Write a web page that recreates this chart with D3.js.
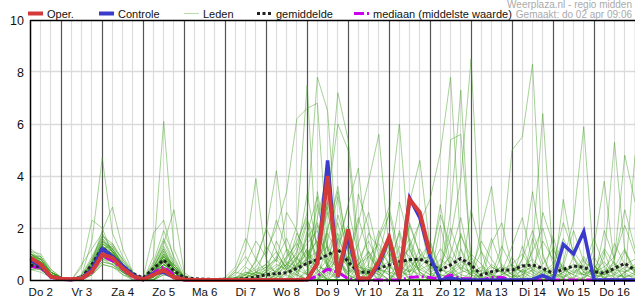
<!DOCTYPE html>
<html lang="nl">
<head>
<meta charset="utf-8" />
<style>
  body { margin: 0; background: #fff; }
  svg { display: block; font-family: "Liberation Sans", Arial, sans-serif; }
</style>
</head>
<body>
<div id="chart"></div>
<script src="https://cdnjs.cloudflare.com/ajax/libs/d3/7.8.5/d3.min.js"></script>
<script>
const width = 635, height = 300;

// hours after do 2 apr 00:00, one value every 6 hours (06:00 do 2 .. 00:00 vr 17)
const hours = d3.range(6, 361, 6);
const dayLabels = ["Do 2", "Vr 3", "Za 4", "Zo 5", "Ma 6", "Di 7", "Wo 8", "Do 9",
  "Vr 10", "Za 11", "Zo 12", "Ma 13", "Di 14", "Wo 15", "Do 16"];
const yTicks = [0, 2, 4, 6, 8, 10];

// operational run (stops after 10 days)
const oper = [0.85, 0.6, 0.13, 0.05, 0.03, 0.06, 0.33, 0.98, 0.85, 0.45, 0.15, 0.02, 0.2, 0.38, 0.1, 0.02, 0, 0, 0,
  0, 0, 0, 0, 0, 0, 0, 0, 0.02, 0.64, 4.0, 0.13, 1.95, 0.08, 0.05, 0.7, 1.64, 0.05, 3.1, 2.6, 1.0];

const controle = [0.75, 0.55, 0.12, 0.05, 0.02, 0.08, 0.4, 1.2, 0.9, 0.55, 0.2, 0.02, 0.25, 0.3, 0.1, 0.02, 0, 0, 0,
  0, 0, 0, 0, 0, 0, 0, 0, 0.02, 0.64, 4.6, 0.1, 1.7, 0.05, 0.02, 0.6, 1.6, 0.02, 3.15, 2.4, 0.9,
  0, 0.08, 0, 0, 0, 0, 0, 0, 0, 0.02, 0.18, 0, 1.37, 1.0, 1.86, 0, 0, 0, 0, 0];

const gemiddelde = [0.58, 0.5, 0.15, 0.05, 0.03, 0.1, 0.6, 1.24, 0.92, 0.55, 0.25, 0.08, 0.45, 0.77, 0.35, 0.1, 0.05, 0.03, 0.02,
  0.03, 0.03, 0.05, 0.12, 0.2, 0.25, 0.28, 0.45, 0.64, 0.78, 0.96, 1.18, 0.7, 0.3, 0.3, 0.45, 0.58, 0.7, 0.78, 0.8,
  0.64, 0.38, 0.58, 0.83, 0.58, 0.19, 0.32, 0.38, 0.38, 0.54, 0.58, 0.45, 0.26, 0.41, 0.54, 0.49, 0.32, 0.26, 0.45, 0.64, 0.38];

const mediaan = [0.52, 0.48, 0.1, 0.02, 0, 0.05, 0.3, 0.92, 0.75, 0.42, 0.1, 0, 0.28, 0.5, 0.2, 0, 0, 0, 0,
  0, 0, 0, 0, 0, 0, 0, 0, 0, 0.15, 0.42, 0.3, 0.05, 0, 0, 0, 0, 0, 0.1, 0.13,
  0.1, 0.02, 0.19, 0.05, 0.05, 0, 0.1, 0.1, 0, 0, 0, 0, 0, 0, 0, 0, 0, 0, 0, 0, 0];

// ensemble members
const leden = [
  [1.2,0.9,0.3,0.1,0,0.1,0.5,1.4,1.1,0.6,0.2,0,0.3,0.9,0.5,0.1,0,0,0, 0,0,0,0.2, 0.5,0.3,0.8,1.5, 2.4,0.6,0.3,0, 0,0.2,0.5,0.3, 0,0.8,1.2,0.3, 0,0,0.3,0, 0,0,0,0, 0,0,0.4,0.1, 0,0,0,0, 0,0,0.5,1.2, 0.3],
  [0.9,0.7,0.2,0,0,0.2,1.5,4.7,1.8,0.9,0.3,0,0,0.4,0.2,0,0,0,0, 0,0,0,0, 0,0.1,0.3,0.9, 0.2,0,1.5,3.2, 0.4,0,0,0, 0.6,0,0,0, 0,2.1,0.4,0, 0,0,0,0.6, 0.2,0,0,0, 0,0,0,0.8, 0,0,0,0, 0],
  [0.6,0.5,0.1,0,0,0,0.7,1.9,2.8,1.2,0.3,0,0.2,0.5,0.2,0,0,0,0, 0,0,0.1,0.3, 0.6,1.1,0.4,0, 0,3.4,1.2,0.5, 0,0,0,0, 0,0,2.2,1.0, 0.3,0,0,0, 0,0,0,0, 0,0,0,0, 0.2,0.6,0,0, 0,0,0,0, 0],
  [0.5,0.6,0.2,0.1,0,0.5,2.3,2.0,1.0,0.4,0.1,0,0,0.3,0.1,0,0,0,0, 0,0,0,0, 0,0,0,0.2, 0.8,2.1,0.6,0, 0,0.3,0.4,0, 1.8,0.5,0,0, 0,0,0,0, 0,0.4,0.2,0, 0,0,1.6,0.4, 0,0,0,0, 0,0.3,0.7,0, 0],
  [0.8,0.6,0.2,0,0,0.1,0.4,0.9,0.7,0.3,0.1,0,0.9,6.1,1.2,0.2,0,0,0, 0,0,0,0, 0,0,0,0, 0.3,0.9,2.8,0.4, 0,0,0,0, 0,0,0,0, 0,0,0,1.2, 0.4,0,0,0, 0,0,0,0, 0,0,0,0, 0,1.1,0,0, 0],
  [0.7,0.8,0.3,0.1,0,0,0.3,1.0,0.9,0.5,0.2,0,0.5,1.4,2.7,0.3,0,0,0, 0,0,0,0, 0,0.2,0.6,0.4, 1.1,0.3,0,0, 0,0,0,0.9, 2.6,0.7,0,0, 0,0,0,0, 0,0,0,0, 0,0,0,0, 0,0,0,0, 0,0,0,0, 0],
  [1.0,0.7,0.2,0,0,0.1,0.6,1.2,1.3,0.8,0.2,0.1,1.8,2.3,0.8,0.1,0,0,0, 0,0,0,0, 0,0,0,0, 0,0,0.4,0.8, 0.2,0,0,0, 0,0,0,0, 0,0,0,0, 0,0,0,0, 0,0,0,0, 0,0,0,0, 0,0,0,0, 0],
  [0.4,0.4,0.1,0,0,0.1,0.5,1.1,0.8,0.4,0.1,0,0.2,0.6,0.3,0,0,0,0, 0,0.3,1.2,3.9, 0.8,0.2,0,0, 0,0,0,0, 0,0,0,0, 0,0.5,1.4,0.2, 0,0,0,0, 0,0,0,0, 0.9,0.2,0,0, 0,0,0,0, 0,0,0,0, 0],
  [0.9,0.6,0.2,0,0,0,0.4,1.3,1.0,0.5,0.1,0,0.1,0.8,0.4,0.1,0,0,0, 0,0,0,0.8, 1.9,4.2,1.1,0.3, 0,0,0.6,0, 0,0,0,0, 0,0,0,0, 0,0,0,0, 0,0,0,0, 0,0,0,0, 0,0,0,0, 0,0,0,0, 0],
  [0.6,0.5,0.2,0,0,0.2,0.8,1.6,1.1,0.5,0.2,0,0.3,1.1,0.5,0,0,0,0, 0,0,0.2,0.5, 1.1,2.0,3.4,6.2, 6.6,6.8,1.2,0.3, 0,0,0,0, 0,0.5,0,0, 0,0,0,0, 0,0,0,0, 0,0,0,0, 0,0,0,0, 0,0,0,0, 0],
  [1.1,0.8,0.2,0.1,0,0,0.3,0.8,0.6,0.3,0,0,0,0.2,0.1,0,0,0,0, 0,0,0,0.1, 0.3,0.2,0.9,2.1, 7.5,0.4,0,0.3, 0.9,0,0,0, 0,0,0,0, 0,0,0,1.8, 0.5,0,0,0, 0,0,0,0, 0,0,0,0, 0,0,0,0, 0],
  [0.7,0.7,0.3,0.1,0,0.1,0.5,1.2,1.0,0.7,0.3,0,0.4,0.9,0.6,0.1,0,0,0, 0,0,0,0, 0,0.4,0.6,1.3, 2.6,7.8,6.5,1.0, 0,0,0.4,0.2, 0,0,0,0, 0,0,0,0, 0,0,0,0, 0,1.3,0.3,0, 0,0,0,0, 0,0,0,0, 0],
  [0.5,0.4,0.1,0,0,0,0.2,0.6,0.5,0.2,0.1,0,0.2,0.4,0.2,0,0,0,0, 0,0,0,0, 0,0,0.3,0.5, 0.8,1.6,2.9,7.2, 5.4,1.3,0,0, 0,0,0,0, 0,0,0,0, 0,0,0,0, 0,0,0,0, 0,0,0,0, 0.6,0,0,0, 0],
  [0.9,0.8,0.3,0.1,0,0.1,0.6,1.5,1.2,0.6,0.2,0,0.6,1.6,0.7,0.1,0,0,0, 0,0,0,0, 0,0,0,0.4, 0.2,0.9,3.1,6.0, 5.0,0.7,0,0, 0,0,0.6,0, 0,0,0,0, 0,0,0,0, 0,0,0,0, 0,0,0,0, 0,0,0,0, 0],
  [0.6,0.5,0.2,0,0,0,0.4,1.0,0.8,0.4,0.1,0,0,0.5,0.3,0,0,0,0, 0,0,0,0, 0,0,0.2,0, 0,0.3,0.8,1.4, 0.6,2.2,3.8,5.6, 1.1,0,0,0, 0,0,0,0, 0,0,0,0, 0,0,0,0, 0.4,0,0,0, 0,0,0,0, 0],
  [1.0,0.9,0.4,0.1,0,0.1,0.4,1.1,1.0,0.5,0.2,0,0.3,0.7,0.3,0,0,0,0, 0,0,0,0, 0,0,0,0, 0,0,0,0.4, 0.9,0.3,0,1.6, 2.5,6.0,1.2,0.3, 0,0,0,0, 0,0,0,0, 0,0,0,0, 0,0,0,0, 0,0,0,0, 0],
  [0.8,0.6,0.2,0,0,0,0.3,0.9,0.7,0.4,0.1,0,0.2,0.6,0.3,0,0,0,0, 0,0,0,0, 0,0,0,0, 0,0,0.3,0.9, 0.2,0,0,0, 0,0.4,1.3,2.2, 3.1,4.9,7.8,1.2, 0,0,0,0, 0,0,0,0, 0,0,0,0, 0,0,0,0, 0],
  [0.7,0.5,0.1,0,0,0.1,0.7,1.3,0.9,0.4,0.1,0,0.1,0.5,0.2,0,0,0,0, 0,0,0,0, 0,0,0,0, 0,0,0,0, 0,0.6,1.1,0.3, 0,0,0,0.9, 1.4,0.3,2.6,7.3, 0.4,0,0,0, 0,0,0,0, 0,0,0.9,0.3, 0,0,0,0, 0],
  [0.5,0.6,0.2,0.1,0,0,0.3,0.7,0.6,0.3,0,0,0,0.3,0.1,0,0,0,0, 0,0,0,0, 0,0,0,0, 0,0,0,0, 0,0,0,0, 0,0.3,0.8,0, 0,0.5,1.6,3.9, 8.5,0.6,0,0, 0,0,0,0, 0,0,0,0, 0,0,0,0.3, 0],
  [0.9,0.7,0.3,0,0,0.2,0.9,1.7,1.3,0.6,0.2,0,0.5,1.2,0.4,0,0,0,0, 0,0,0,0, 0,0,0,0.6, 1.2,0.4,0,0, 0,0,0,0, 0,0,0,0, 0,0,5.4,5.6, 0.8,0,0,0, 0,0,0,0, 0,0,0,0, 0,0,0,0, 0],
  [0.6,0.6,0.2,0,0,0.1,0.5,1.0,0.8,0.4,0.1,0,0.2,0.5,0.2,0,0,0,0, 0,0,0,0, 0,0,0,0, 0,0,0,0, 0,0,0,0.4, 0.2,0,0,0, 0,0,0,0, 0,0,0,1.0, 5.0,5.5,8.3,0.9, 0,0,0,0, 0,0,0,0, 0],
  [1.0,0.8,0.2,0,0,0,0.4,1.1,0.9,0.5,0.2,0,0.3,0.8,0.3,0,0,0,0, 0,0,0,0, 0,0,0,0, 0,0.2,0.5,0.3, 0,0,0,0, 0,0,0,0, 0,0.6,0,0, 0,0,0,0, 0,0,1.2,6.4, 0.8,0,0,0, 0,0,0,0, 0],
  [0.4,0.5,0.2,0,0,0.1,0.3,0.8,0.9,0.5,0.1,0,0.1,0.4,0.2,0,0,0,0, 0,0,0,0, 0,0,0.3,0.2, 0,0,0,0, 0,0,0,0, 0,0,0,0, 0,0,0,0, 0,0,0,0, 0,0,0,0, 0,0.7,2.3,5.9, 0.6,0,0,0, 0],
  [0.8,0.7,0.2,0.1,0,0,0.2,0.6,0.5,0.3,0.1,0,0,0.2,0.1,0,0,0,0, 0,0,0,0, 0,0,0,0, 0,0,0,0, 0,0,0,0, 0,0,0,0, 0,0,0,0, 0,0,0,0, 0,0,0,0, 0,0,0,0, 0,0.9,5.3,1.1, 0.2],
  [0.7,0.6,0.2,0,0,0.1,0.6,1.4,1.1,0.6,0.2,0,0.4,1.0,0.5,0.1,0,0,0, 0,0,0,0, 0,0,0,0.3, 0.7,0.2,0,0, 0,0,0,0, 0,0,0,0, 0,0,0,0, 0,0,0,0, 0,0.4,0,0, 0,0,0,0, 0,0,0.8,4.8, 3.0],
  [0.5,0.4,0.1,0,0,0,0.4,0.9,0.7,0.3,0.1,0,0.2,0.6,0.3,0,0,0,0, 0,0,0,0, 0,0,0,0, 0,0,0.6,1.5, 2.8,0.9,0,0, 0,0,0,0, 0,0,0,0, 0,0,0,0, 0,0,0,0, 1.7,0.3,0,0, 0,0,0,0, 4.8],
  [1.1,1.0,0.4,0.1,0,0,0.3,1.2,1.4,0.8,0.3,0,0.1,0.6,0.4,0,0,0,0, 0,0,0,0, 0.3,0.8,1.6,0.6, 0.2,2.4,4.1,0.9, 0,0,0.3,0, 0,0,0,0, 0.5,2.9,0.6,0, 0,0,0,0, 0,0,0,0, 0,0,0,0, 0,0,0,0, 0],
  [0.6,0.7,0.3,0.1,0,0.1,0.5,1.0,0.8,0.5,0.2,0,0.6,1.5,0.6,0.1,0,0,0, 0,0,0,0, 0,0,0,0, 1.8,3.2,0.4,0, 0,0,0,0, 0.6,1.8,0.2,0, 0,0,0,0, 0,0,1.4,2.2, 0.5,0,0,0, 0,0,0,0, 0,0,0,0, 0],
  [0.9,0.6,0.1,0,0,0,0.6,1.5,1.1,0.5,0.1,0,0.2,0.8,0.5,0,0,0,0, 0,0,0,0, 0,0,0,0, 0,0.5,1.9,3.6, 1.0,0,0,0, 0,0,0,0, 0,0,0,0, 0,0,0,0, 0,0,0,2.6, 1.4,0,0,0, 0,0,0,0, 0],
  [0.7,0.5,0.2,0,0,0.1,0.4,1.1,0.9,0.4,0.1,0,0.3,0.9,0.4,0,0,0,0, 0,0,0,0, 0,0.2,0.5,0.2, 0,0,0,0, 0,3.3,2.0,0, 0,0,0.4,0.2, 0,0,0,0, 0,0,0,0, 0,0,0,0, 0,3.1,0.9,0, 0,0,0,0, 0],
  [1.0,0.8,0.3,0.1,0,0,0.5,1.3,1.0,0.5,0.2,0,0.1,0.5,0.3,0,0,0,0, 0,0,0,0, 0,0,0,0, 0,0.8,0,0, 0,0,0,0, 0,0,3.0,4.6, 1.2,0,0,0, 0,0,0,0, 0,0,0,0, 0,0,0,0, 0,0,0,0, 0],
  [0.5,0.6,0.2,0,0,0.1,0.7,1.6,1.2,0.6,0.2,0,0.4,1.3,0.6,0.1,0,0,0, 0,0,0,0, 0,0,0,0, 0.4,0,0,0, 0,0,0,0, 0,0,0,0, 0,0,0,0, 0,2.0,3.6,0.4, 0,0,0,0, 0,0,0,0, 0,0.3,0,0, 0],
  [0.8,0.7,0.2,0,0,0,0.3,0.9,0.7,0.4,0.1,0,0.2,0.7,0.3,0,0,0,0, 0,0,0,0, 0,0,0,0, 0,0,0,0, 0,0,0,0, 0,0,0,0, 0,0,0,0, 0,0,0,0, 0,0.8,3.4,1.0, 0,0,0,0, 0,0,0,0, 0],
  [0.6,0.4,0.1,0,0,0.1,0.5,1.2,1.0,0.4,0.1,0,0.1,0.4,0.2,0,0,0,0, 0,0,0,0, 0,0,0,0, 0,0,0,0, 0,0,0,0, 0,0,0,0, 0,0,0,0, 0,0,0,0, 0,0,0,0, 0,0,0,0, 1.3,3.8,0.6,0, 0],
  [0.9,0.9,0.3,0.1,0,0,0.4,1.0,0.8,0.5,0.2,0,0.5,1.1,0.4,0,0,0,0, 0,0,0,0, 0,0,0,0.8, 2.2,0.4,0,0, 0,0,0,0, 0,0,0,0, 0,0,0,0, 0,0,0,0, 0,0,0,0, 0,0,0,0, 0,0,0,0, 0],
  [0.7,0.6,0.2,0,0,0,0.6,1.3,0.9,0.4,0.1,0,0.3,0.8,0.3,0,0,0,0, 0,0,0,0, 0,0,0,0, 0,0,0,1.1, 2.9,4.3,0.5,0, 0,0,0,0, 0,0,0,0, 0,0,0,0, 0,0,0,0, 0,0,0,0, 0,0,0,0, 0],
  [0.4,0.3,0.1,0,0,0,0.2,0.7,0.6,0.2,0,0,0,0.3,0.2,0,0,0,0, 0,0.4,0.9,0.3, 0.2,0,0,0, 0,0,0,0, 0,0,0,0, 0,0,0,0, 0,0,0,0, 0,0,0,0, 0,0,0,0, 0,0,0,0, 0,0,0,0, 0],
  [1.0,0.7,0.2,0,0,0.1,0.8,1.7,1.4,0.7,0.2,0,0.2,1.0,0.5,0.1,0,0,0, 0,0,0,0, 0,0,0,0, 0,0,0,0, 0,0,0,0, 0,0,0,0, 0,0,0,0, 2.7,1.1,0,0, 0,0,0,0, 0,0,0,0, 0,0,0,0, 0],
  [0.6,0.5,0.2,0,0,0,0.4,0.8,0.7,0.3,0.1,0,0.2,0.5,0.2,0,0,0,0, 0,0,0,0, 0,0,0,0, 0,0,0,0, 0,0,0,0, 0,0,0,0, 0,0,0,0, 0,0,0,0, 0,0,0,0, 0,0,0,0, 0,1.9,0.8,2.7, 1.2],
  [0.8,0.6,0.2,0.1,0,0,0.5,1.2,1.0,0.5,0.2,0,0.3,0.7,0.3,0,0,0,0, 0,0,0.5,0.2, 0,0,0,0, 0,0,0.2,0.6, 1.8,0.4,0,0, 0,0,0,0, 0,0,0,0, 0,0,0,0, 0,0,0,0, 0,0,0,0, 0,0,0,0, 0],
  [0.8,0.7,0.3,0.1,0,0.1,0.6,1.4,1.2,0.6,0.2,0,0.4,0.9,0.4,0.1,0,0,0, 0,0.1,0.2,0.4, 0.6,0.3,1.2,0.8, 1.6,2.2,0.9,1.8, 0.4,0.2,0.9,1.4, 0.6,0.3,0.2,0.5, 0.2,0.4,0.3,0.1, 0,0.2,0.5,0.3, 0.1,0.4,0.2,0, 0,0.3,0.5,0.2, 0.1,0.3,0.6,0.4, 0.2],
  [0.6,0.5,0.2,0,0,0,0.5,1.1,0.9,0.5,0.1,0,0.3,0.8,0.3,0,0,0,0, 0,0,0.1,0.3, 0.2,0.5,0.9,1.4, 0.8,1.1,2.6,0.7, 0.3,0.8,1.5,0.6, 1.1,0.4,0.8,0.3, 0.1,0,0.3,0.6, 0.2,0.1,0,0.2, 0.5,0.3,0.1,0.4, 0.2,0,0.1,0.3, 0.2,0.1,0,0.3, 0.5],
  [1.0,0.8,0.2,0.1,0,0,0.4,1.0,1.0,0.6,0.2,0,0.2,0.6,0.3,0,0,0,0, 0,0,0,0.1, 0.4,0.9,0.5,1.1, 2.3,1.4,0.6,2.5, 1.2,0.5,0.3,0.8, 0.4,1.3,0.9,0.4, 0.6,0.2,0.1,0, 0.3,0.5,0.2,0.1, 0,0.2,0.6,0.3, 0.4,0.2,0,0.1, 0.3,0.5,0.2,0.1, 0.3],
  [0.7,0.6,0.2,0,0,0.1,0.5,1.3,1.1,0.5,0.2,0,0.5,1.2,0.5,0.1,0,0,0, 0,0.1,0.3,0.2, 0.1,0.3,0.7,0.5, 1.2,0.6,1.8,1.0, 0.5,0.2,0.6,1.9, 0.9,0.5,0.3,1.2, 0.4,0.8,0.5,0.2, 0.1,0,0.3,0.5, 0.2,0.1,0,0.3, 0.6,0.4,0.2,0, 0.1,0.2,0.4,0.6, 0.3],
  [0.9,0.7,0.3,0.1,0,0.1,0.7,1.5,1.2,0.6,0.2,0,0.3,0.9,0.4,0,0,0,0, 0,0,0.2,0.1, 0.3,0.6,0.4,0.9, 1.4,1.9,0.8,0.5, 0.9,0.4,0.2,0.5, 0.7,0.9,1.6,0.6, 0.3,0.5,0.9,0.4, 0.2,0,0.1,0.2, 0.4,0.6,0.3,0.1, 0.2,0.5,0.3,0.2, 0.4,0.1,0.2,0.5, 0.4],
  [0.5,0.5,0.1,0,0,0,0.3,0.9,0.8,0.4,0.1,0,0.2,0.7,0.3,0,0,0,0, 0,0,0,0, 0.2,0.1,0.4,0.8, 0.5,0.9,1.3,0.6, 0.2,0.6,0.9,0.4, 0.3,0.2,0.5,0.9, 0.5,0.2,0.1,0.3, 0.4,0.2,0.6,0.3, 0.1,0.2,0.4,0.2, 0.1,0.3,0.6,0.4, 0.2,0.4,0.3,0.1, 0.2],
  [0.8,0.6,0.2,0.1,0,0,0.4,1.2,0.9,0.4,0.1,0,0.1,0.5,0.2,0,0,0,0, 0,0,0.1,0.2, 0.4,0.2,0.6,0.3, 0.9,0.5,0.4,1.2, 0.6,0.3,1.1,0.5, 0.2,0.6,0.3,0.8, 0.9,0.4,0.2,0.5, 0.3,0.1,0.2,0.4, 0.6,0.3,0.5,0.2, 0.3,0.1,0.4,0.2, 0.5,0.3,0.1,0.2, 0.1],
  [0.6,0.6,0.2,0,0,0.1,0.6,1.3,1.0,0.5,0.2,0,0.4,1.0,0.4,0,0,0,0, 0,0.1,0.1,0.3, 0.5,0.8,0.3,0.6, 1.0,1.5,0.5,0.9, 0.3,0.5,0.4,0.2, 0.5,0.3,0.7,0.4, 0.2,0.1,0.4,0.7, 0.5,0.3,0.1,0.1, 0.3,0.5,0.8,0.4, 0.2,0.1,0.3,0.5, 0.3,0.2,0.4,0.3, 0.5],
  [0.7,0.5,0.2,0,0,0.1,0.5,1.1,0.9,0.5,0.1,0,0.3,0.8,0.3,0,0,0,0, 0,0.2,0.6,1.5, 0.9,2.3,1.2,0.4, 1.9,0.8,3.0,1.4, 2.1,0.6,0.2,1.7, 2.8,1.0,0.3,0.6, 1.5,0.4,2.0,0.8, 0.2,1.1,0.5,0.3, 1.3,2.4,0.7,0.2, 0.5,1.6,0.8,0.3, 0.9,0.2,1.4,0.6, 0.8],
  [0.9,0.8,0.2,0,0,0,0.4,1.0,0.8,0.4,0.1,0,0.2,0.6,0.3,0,0,0,0, 0,0,0.3,0.2, 1.3,0.7,2.6,1.9, 0.6,2.9,1.1,2.2, 0.5,1.4,2.6,0.9, 0.3,1.9,0.7,2.3, 0.4,1.2,0.6,1.7, 0.9,0.3,1.6,0.5, 0.2,0.8,1.9,0.6, 1.2,0.4,0.2,0.9, 0.3,0.7,0.2,1.1, 0.4],
  [0.6,0.7,0.2,0.1,0,0.6,1.2,1.8,1.1,0.5,0.2,0,0.7,1.9,0.9,0.1,0,0,0, 0.1,0.5,1.6,0.8, 0.3,1.5,0.6,1.0, 3.3,1.2,0.5,1.6, 0.8,2.4,1.0,0.3, 1.4,0.5,2.1,1.0, 0.7,2.5,1.3,0.4, 1.0,0.6,0.2,1.3, 0.5,0.3,1.1,2.0, 0.6,2.2,1.1,0.5, 1.6,0.5,0.9,2.1, 1.0],
  [0.8,0.6,0.3,0.1,0,0.1,0.5,1.2,1.1,0.6,0.2,0,0.3,0.9,0.6,0.1,0,0,0, 0,0.3,0.2,0.7, 2.0,1.1,0.4,1.8, 1.0,0.6,2.0,3.4, 1.1,0.5,1.8,1.2, 0.6,3.0,1.5,0.5, 0.9,0.3,1.0,2.4, 0.4,1.5,0.8,0.2, 0.6,1.0,0.4,1.5, 0.8,0.5,1.9,0.7, 0.4,1.2,0.6,0.3, 0.6]
];

const legendItems = [
  {label: "Oper.", x: 28, color: "#d43a3a", width: 4, dash: null},
  {label: "Controle", x: 99, color: "#3a3acc", width: 4, dash: null},
  {label: "Leden", x: 184, color: "#b8dcaa", width: 1, dash: null},
  {label: "gemiddelde", x: 257, color: "#222", width: 3, dash: "3,2.5"},
  {label: "mediaan (middelste waarde)", x: 354, color: "#cc00ee", width: 3, dash: "10,3,2,3"}
];

const x = d3.scaleLinear().domain([6, 360]).range([30.5, 635]);
const y = d3.scaleLinear().domain([0, 10]).range([280, 20]);

const svg = d3.select("#chart").append("svg")
  .attr("width", width)
  .attr("height", height);

const crisp = v => Math.round(v - 0.5) + 0.5;

// horizontal grid
svg.append("g").selectAll("line")
  .data(yTicks.filter(d => d > 0 && d < 10))
  .join("line")
  .attr("x1", 30.5).attr("x2", width)
  .attr("y1", d => crisp(y(d))).attr("y2", d => crisp(y(d)))
  .attr("stroke", "#dcdcdc").attr("stroke-width", 1.5);

// vertical grid, darker at midnight
svg.append("g").selectAll("line")
  .data(hours.slice(1))
  .join("line")
  .attr("x1", d => crisp(x(d))).attr("x2", d => crisp(x(d)))
  .attr("y1", 20).attr("y2", 280)
  .attr("stroke", d => d % 24 === 0 ? "#555" : "#dcdcdc")
  .attr("stroke-width", 1.2);

const line = d3.line()
  .x((d, i) => x(hours[i]))
  .y(d => y(d));

// members
svg.append("g").selectAll("path")
  .data(leden)
  .join("path")
  .attr("d", line)
  .attr("fill", "none")
  .attr("stroke", "#3f9c1f")
  .attr("stroke-opacity", 0.46)
  .attr("stroke-width", 1);

svg.append("path")
  .datum(mediaan)
  .attr("d", line)
  .attr("fill", "none")
  .attr("stroke", "#cc00ee")
  .attr("stroke-width", 3)
  .attr("stroke-dasharray", "10,3,2,3");

svg.append("path")
  .datum(gemiddelde)
  .attr("d", line)
  .attr("fill", "none")
  .attr("stroke", "#222")
  .attr("stroke-width", 3)
  .attr("stroke-dasharray", "3,2.5");

svg.append("path")
  .datum(controle)
  .attr("d", line)
  .attr("fill", "none")
  .attr("stroke", "#3a3acc")
  .attr("stroke-width", 3.5);

svg.append("path")
  .datum(oper)
  .attr("d", line)
  .attr("fill", "none")
  .attr("stroke", "#d43a3a")
  .attr("stroke-width", 4);

// axes
svg.append("line")
  .attr("x1", 30.5).attr("x2", 30.5).attr("y1", 20).attr("y2", 281)
  .attr("stroke", "#000").attr("stroke-width", 1.5);
svg.append("line")
  .attr("x1", 30).attr("x2", width).attr("y1", 20.5).attr("y2", 20.5)
  .attr("stroke", "#000").attr("stroke-width", 1.5);
svg.append("line")
  .attr("x1", 30).attr("x2", width).attr("y1", 280.5).attr("y2", 280.5)
  .attr("stroke", "#000").attr("stroke-width", 1.5);

// small ticks under the axis in the second week
svg.append("g").selectAll("line")
  .data(hours.filter(h => h >= 174))
  .join("line")
  .attr("x1", d => crisp(x(d))).attr("x2", d => crisp(x(d)))
  .attr("y1", 280).attr("y2", 285)
  .attr("stroke", "#000");

// y labels
svg.append("g").selectAll("text")
  .data(yTicks)
  .join("text")
  .attr("x", 24)
  .attr("y", d => y(d) + 4.5)
  .attr("text-anchor", "end")
  .attr("font-size", 12.5)
  .attr("fill", "#111")
  .text(d => d);

// day labels at noon
svg.append("g").selectAll("text")
  .data(dayLabels)
  .join("text")
  .attr("x", (d, i) => x(12 + 24 * i))
  .attr("y", 296)
  .attr("text-anchor", "middle")
  .attr("font-size", 11.5)
  .attr("fill", "#111")
  .text(d => d);

// legend
const lg = svg.append("g").selectAll("g")
  .data(legendItems)
  .join("g");
lg.append("line")
  .attr("x1", d => d.x).attr("x2", d => d.x + 15)
  .attr("y1", 13.5).attr("y2", 13.5)
  .attr("stroke", d => d.color)
  .attr("stroke-width", d => d.width)
  .attr("stroke-dasharray", d => d.dash);
lg.append("text")
  .attr("x", d => d.x + 19)
  .attr("y", 17.5)
  .attr("font-size", 11)
  .attr("fill", "#111")
  .text(d => d.label);

// source text
svg.append("text")
  .attr("x", 632).attr("y", 7.5)
  .attr("text-anchor", "end")
  .attr("font-size", 10)
  .attr("fill", "#aaa")
  .text("Weerplaza.nl - regio midden");
svg.append("text")
  .attr("x", 632).attr("y", 17.5)
  .attr("text-anchor", "end")
  .attr("font-size", 10)
  .attr("fill", "#aaa")
  .text("Gemaakt: do 02 apr 09:06");
</script>
</body>
</html>
